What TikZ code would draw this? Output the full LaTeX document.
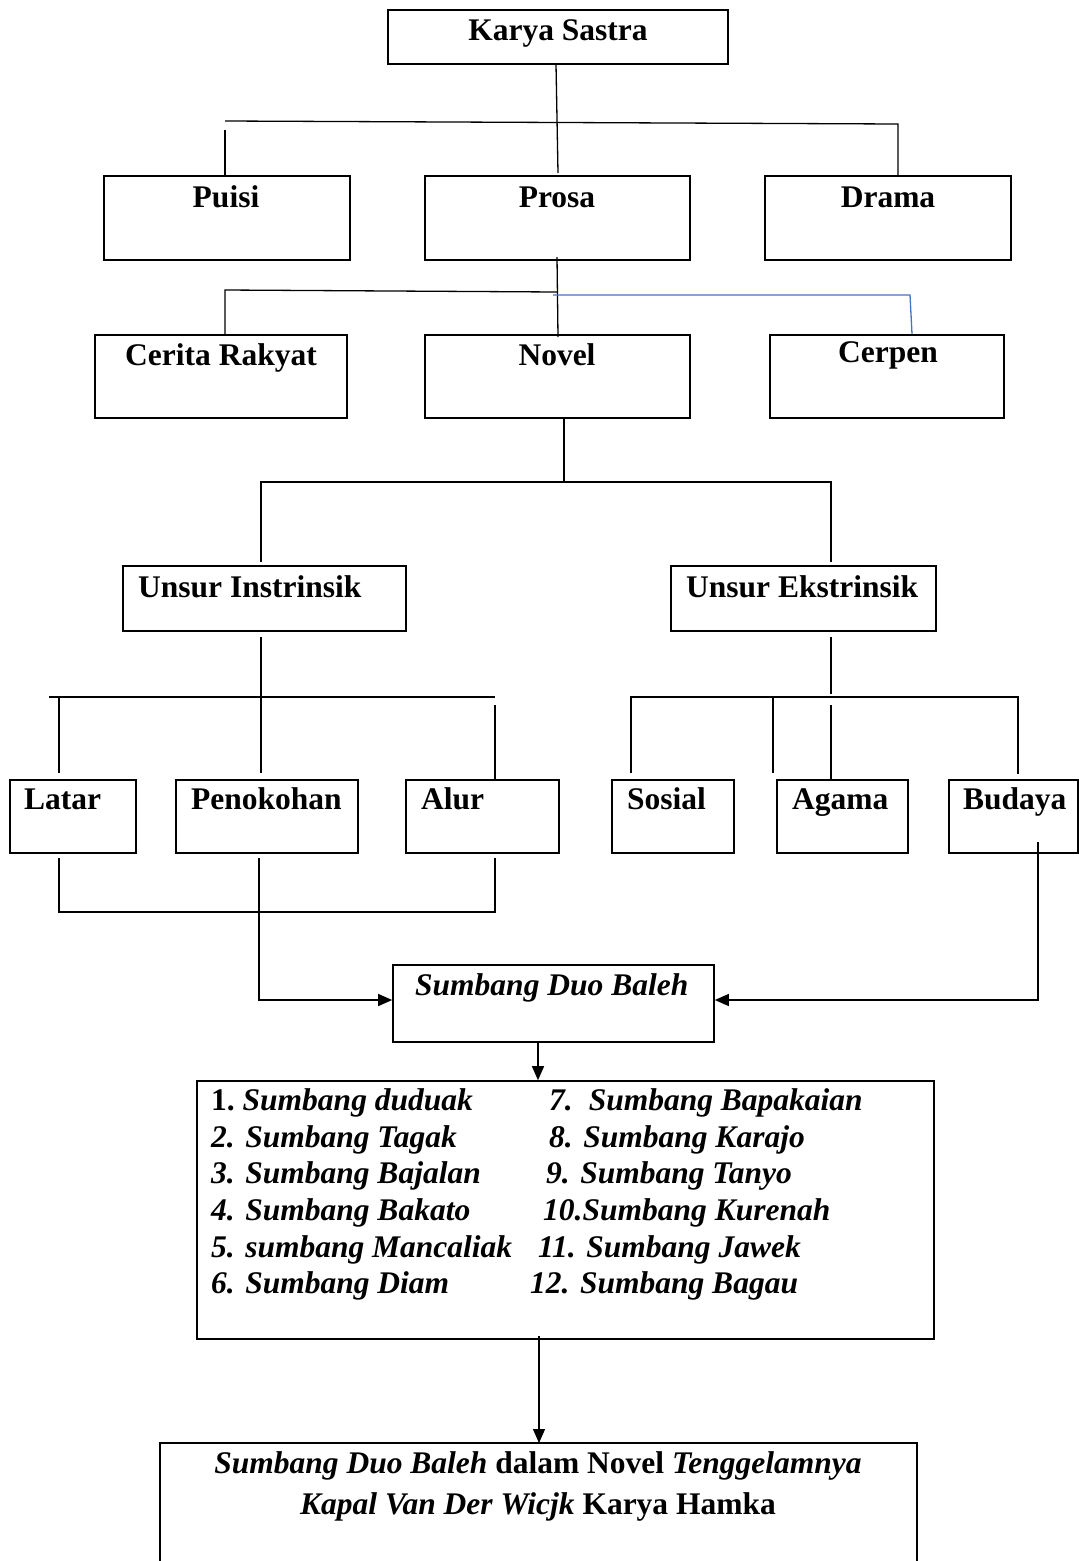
\documentclass[tikz,border=0pt]{standalone}
\usepackage{fontspec}
\setmainfont{Liberation Serif}
\usetikzlibrary{arrows.meta}
\begin{document}
\begin{tikzpicture}[x=1pt,y=-1pt,
  box/.style={draw,line width=1.6pt,inner sep=0pt},
  lbl/.style={inner sep=0pt,anchor=base,font=\fontsize{31.5}{36}\selectfont\bfseries},
  item/.style={inner sep=0pt,anchor=base west,font=\fontsize{31.5}{36}\selectfont\bfseries\itshape},
  conn/.style={line width=1.3pt},
  blueconn/.style={line width=1.3pt,draw={rgb,255:red,68;green,114;blue,196}},
  arr/.style={line width=1.3pt,-{Triangle[length=14pt,width=12pt]}}]
\useasboundingbox (0,0) rectangle (1079,1561);
% boxes
\node[box,minimum width=340pt,minimum height=54pt] (karya) at (558,37) {};
\node[box,minimum width=246pt,minimum height=84pt] (puisi) at (227,218) {};
\node[box,minimum width=265pt,minimum height=84pt] (prosa) at (557.5,218) {};
\node[box,minimum width=246pt,minimum height=84pt] (drama) at (888,218) {};
\node[box,minimum width=252pt,minimum height=83pt] (cerita) at (221,376.5) {};
\node[box,minimum width=265pt,minimum height=83pt] (novel) at (557.5,376.5) {};
\node[box,minimum width=234pt,minimum height=83pt] (cerpen) at (887,376.5) {};
\node[box,minimum width=283pt,minimum height=65pt] (ui) at (264.5,598.5) {};
\node[box,minimum width=265pt,minimum height=65pt] (ue) at (803.5,598.5) {};
\node[box,minimum width=126pt,minimum height=73pt] (latar) at (73,816.5) {};
\node[box,minimum width=182pt,minimum height=73pt] (penok) at (267,816.5) {};
\node[box,minimum width=153pt,minimum height=73pt] (alur) at (482.5,816.5) {};
\node[box,minimum width=122pt,minimum height=73pt] (sosial) at (673,816.5) {};
\node[box,minimum width=131pt,minimum height=73pt] (agama) at (842.5,816.5) {};
\node[box,minimum width=129pt,minimum height=73pt] (budaya) at (1013.5,816.5) {};
\node[box,minimum width=321pt,minimum height=77pt] (sdb) at (553.5,1003.5) {};
\node[box,minimum width=737pt,minimum height=258pt] (list) at (565.5,1210) {};
\coordinate (finalTL) at (160,1443);
\coordinate (finalTR) at (917,1443);
\coordinate (finalBL) at (160,1561);
\coordinate (finalBR) at (917,1561);
\draw[line width=1.6pt] (finalBL) -- (finalTL) -- (finalTR) -- (finalBR);
% labels
\node[lbl] (karyaT) at (558,40) {Karya Sastra};
\node[lbl] (puisiT) at (226,207) {Puisi};
\node[lbl] (prosaT) at (557,207) {Prosa};
\node[lbl] (dramaT) at (888,207) {Drama};
\node[lbl] (ceritaT) at (221,365) {Cerita Rakyat};
\node[lbl] (novelT) at (557,365) {Novel};
\node[lbl] (cerpenT) at (888,362) {Cerpen};
\node[lbl,anchor=base west] (uiT) at (138,597) {Unsur Instrinsik};
\node[lbl,anchor=base west] (ueT) at (686,597) {Unsur Ekstrinsik};
\node[lbl,anchor=base west] (latarT) at (24,809) {Latar};
\node[lbl,anchor=base west] (penokT) at (191,809) {Penokohan};
\node[lbl,anchor=base west] (alurT) at (421,809) {Alur};
\node[lbl,anchor=base west] (sosialT) at (627,809) {Sosial};
\node[lbl,anchor=base west] (agamaT) at (792,809) {Agama};
\node[lbl,anchor=base west] (budayaT) at (963,809) {Budaya};
\node[lbl,anchor=base west] (sdbT) at (415,995) {\itshape Sumbang Duo Baleh};
% list items
\node[item] (i1) at (211,1110) {\upshape 1.\itshape\ Sumbang duduak};
\node[item] (i2) at (211,1147) {2. Sumbang Tagak};
\node[item] (i3) at (211,1183) {3. Sumbang Bajalan};
\node[item] (i4) at (211,1220) {4. Sumbang Bakato};
\node[item] (i5) at (211,1257) {5. sumbang Mancaliak};
\node[item] (i6) at (211,1293) {6. Sumbang Diam};
\node[item] (i7) at (549,1110) {7.\hspace{16pt}Sumbang Bapakaian};
\node[item] (i8) at (549,1147) {8. Sumbang Karajo};
\node[item] (i9) at (546,1183) {9. Sumbang Tanyo};
\node[item] (i10) at (543,1220) {10.Sumbang Kurenah};
\node[item] (i11) at (538,1257) {11. Sumbang Jawek};
\node[item] (i12) at (530,1293) {12. Sumbang Bagau};
\node[lbl] (f1) at (538,1473) {\itshape Sumbang Duo Baleh\upshape\ dalam Novel \itshape Tenggelamnya};
\node[lbl] (f2) at (538,1514) {\itshape Kapal Van Der Wicjk\upshape\ Karya Hamka};
% connector coordinates
\coordinate (k1) at (556,64);
\coordinate (k2) at (558,173);
\coordinate (h1L) at (225,121);
\coordinate (h1R) at (898,124);
\coordinate (p1) at (225,130);
\coordinate (p2) at (225,175);
\coordinate (d2) at (898,175);
\draw[conn] (k1) -- (k2);
\draw[conn] (h1L) -- (h1R) -- (d2);
\draw[conn] (p1) -- (p2);
% prosa level
\coordinate (pr1) at (557,257);
\coordinate (pr2) at (558,337);
\coordinate (h2L) at (225,290);
\coordinate (h2R) at (557,292);
\coordinate (c2) at (225,334);
\coordinate (b1) at (553,295);
\coordinate (b2) at (910,295);
\coordinate (b3) at (912,334);
\draw[conn] (pr1) -- (pr2);
\draw[conn] (c2) -- (h2L) -- (h2R);
\draw[blueconn] (b1) -- (b2) -- (b3);
% novel level
\coordinate (n1) at (564,418);
\coordinate (n2) at (564,482);
\coordinate (n3L) at (261,482);
\coordinate (n3R) at (831,482);
\coordinate (n4L) at (261,562);
\coordinate (n4R) at (831,562);
\draw[conn] (n1) -- (n2);
\draw[conn] (n4L) -- (n3L) -- (n3R) -- (n4R);
% intrinsik level
\coordinate (u1) at (261,637);
\coordinate (u2) at (261,697);
\coordinate (u3L) at (49,697);
\coordinate (u3R) at (495,697);
\coordinate (la1) at (59,697);
\coordinate (la2) at (59,773);
\coordinate (pe2) at (261,773);
\coordinate (al1) at (495,705);
\coordinate (al2) at (495,779);
\draw[conn] (u1) -- (pe2);
\draw[conn] (u3L) -- (u3R);
\draw[conn] (la1) -- (la2);
\draw[conn] (al1) -- (al2);
% ekstrinsik level
\coordinate (e1) at (831,637);
\coordinate (e2) at (831,694);
\coordinate (e3L) at (631,697);
\coordinate (e3R) at (1018,697);
\coordinate (so2) at (631,773);
\coordinate (m1) at (773,697);
\coordinate (m2) at (773,773);
\coordinate (ag1) at (831,705);
\coordinate (ag2) at (831,779);
\coordinate (bu2) at (1018,774);
\draw[conn] (e1) -- (e2);
\draw[conn] (so2) -- (e3L) -- (e3R) -- (bu2);
\draw[conn] (m1) -- (m2);
\draw[conn] (ag1) -- (ag2);
% bottom of level 4
\coordinate (lb1) at (59,858);
\coordinate (lb2) at (59,912);
\coordinate (ab1) at (495,858);
\coordinate (ab2) at (495,912);
\draw[conn] (lb1) -- (lb2) -- (ab2) -- (ab1);
\coordinate (pk1) at (259,858);
\coordinate (pk2) at (259,1000);
\coordinate (bd1) at (1038,842);
\coordinate (bd2) at (1038,1000);
\draw[arr] (pk1) -- (pk2) -- (sdb.west |- pk2);
\draw[arr] (bd1) -- (bd2) -- (sdb.east |- bd2);
\coordinate (s1) at (538,1042);
\draw[arr] (s1) -- (s1 |- list.north);
\coordinate (l1) at (539,1336);
\draw[arr] (l1) -- (l1 |- finalTL);
\end{tikzpicture}
\end{document}
